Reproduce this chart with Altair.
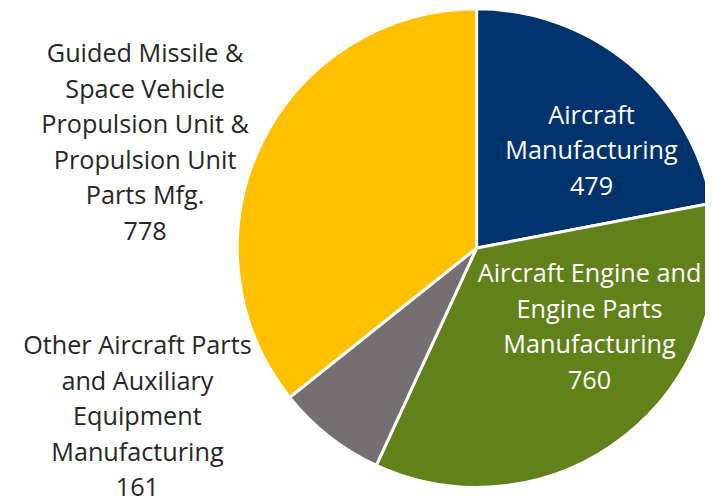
import altair as alt
import pandas as pd

categories = [
    "Aircraft Manufacturing",
    "Aircraft Engine and Engine Parts Manufacturing",
    "Other Aircraft Parts and Auxiliary Equipment Manufacturing",
    "Guided Missile & Space Vehicle Propulsion Unit & Propulsion Unit Parts Mfg.",
]
label_lines = [
    ["Aircraft", "Manufacturing"],
    ["Aircraft Engine and", "Engine Parts", "Manufacturing"],
    ["Other Aircraft Parts", "and Auxiliary", "Equipment", "Manufacturing"],
    ["Guided Missile &", "Space Vehicle", "Propulsion Unit &", "Propulsion Unit", "Parts Mfg."],
]
values = [479, 760, 161, 778]
colors = ["#00336B", "#61811A", "#747071", "#FFC000"]

df = pd.DataFrame({
    "category": categories,
    "value": values,
    "idx": list(range(len(categories))),
    "label": ["\n".join(l + [str(v)]) for l, v in zip(label_lines, values)],
})

CX, CY = 474, 240
FONT = "Open Sans"

base = alt.Chart(df).encode(
    theta=alt.Theta("value:Q", stack=True),
    order=alt.Order("idx:Q"),
)

pie = base.mark_arc(outerRadius=242, stroke="white", strokeWidth=3).encode(
    color=alt.Color("category:N", scale=alt.Scale(domain=categories, range=colors), legend=None),
    x=alt.value(CX), y=alt.value(CY),
)

# label placement: (category index, radius, dx, dy, color)
placements = [
    (0, 140, 27, -26, "white"),
    (1, 140, 28, -84, "white"),
    (2, 300, -158, -137, "#262626"),
    (3, 300, -65, -66, "#262626"),
]

layers = [pie]
for i, r, dx, dy, col in placements:
    layers.append(
        base.mark_text(
            radius=r, dx=dx, dy=dy, color=col, font=FONT, fontSize=25.5,
            lineBreak="\n", lineHeight=36, align="center", baseline="middle",
        ).encode(
            text="label:N", x=alt.value(CX), y=alt.value(CY),
            opacity=alt.condition(alt.datum.idx == i, alt.value(1), alt.value(0)),
        )
    )

chart = alt.layer(*layers).properties(
    width=705, height=494,
    padding=0,
    autosize=alt.AutoSizeParams(type="none"),
).configure_view(stroke=None)

chart.save("out.html", embed_options={"renderer": "svg", "actions": False})
